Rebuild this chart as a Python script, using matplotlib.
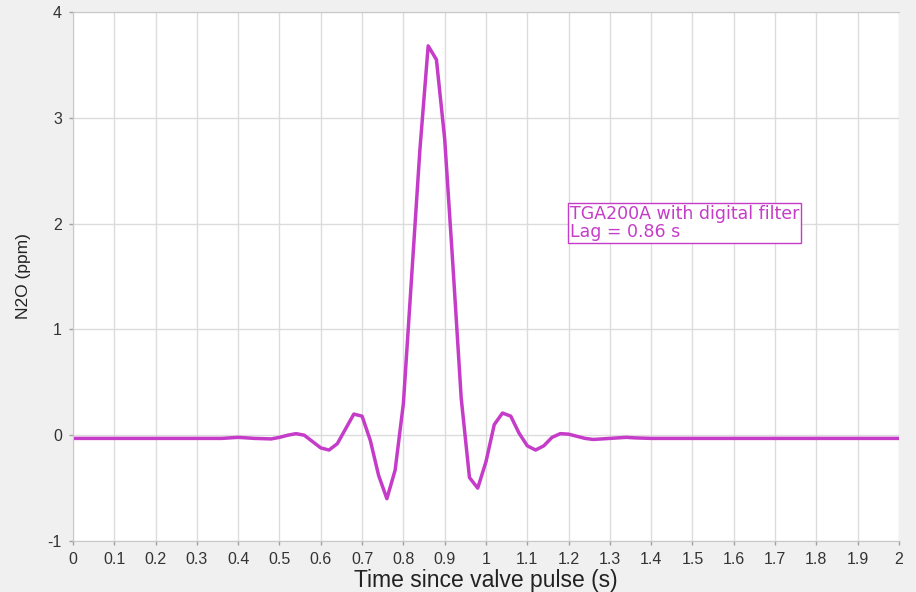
import numpy as np
import matplotlib
matplotlib.use("Agg")
import matplotlib.pyplot as plt

# N2O response after valve pulse
t_s = [0.00, 0.10, 0.20, 0.30, 0.36, 0.40, 0.44, 0.48, 0.50, 0.52, 0.54, 0.56,
       0.58, 0.60, 0.62, 0.64, 0.66, 0.68, 0.70, 0.72, 0.74, 0.76, 0.78, 0.80,
       0.82, 0.84, 0.86, 0.88, 0.90, 0.92, 0.94, 0.96, 0.98, 1.00, 1.02, 1.04,
       1.06, 1.08, 1.10, 1.12, 1.14, 1.16, 1.18, 1.20, 1.22, 1.24, 1.26, 1.30,
       1.34, 1.36, 1.40, 1.60, 1.80, 2.00]
n2o_ppm = [-0.03, -0.03, -0.03, -0.03, -0.03, -0.02, -0.03, -0.035, -0.02, 0.0, 0.015, 0.0,
           -0.06, -0.12, -0.14, -0.08, 0.06, 0.20, 0.18, -0.05, -0.38, -0.60, -0.33, 0.30,
           1.50, 2.70, 3.68, 3.55, 2.80, 1.60, 0.35, -0.40, -0.50, -0.25, 0.10, 0.21,
           0.18, 0.02, -0.10, -0.14, -0.10, -0.02, 0.015, 0.01, -0.01, -0.03, -0.04, -0.03,
           -0.02, -0.025, -0.03, -0.03, -0.03, -0.03]

x_ticks = np.round(np.arange(0, 2.01, 0.1), 1)
x_labels = ["0"] + ["%g" % v for v in x_ticks[1:]]
y_ticks = [-1, 0, 1, 2, 3, 4]

label_text = "TGA200A with digital filter\nLag = 0.86 s"

col = "#c53cc8"
plt.rcParams["font.family"] = ["Liberation Sans", "DejaVu Sans"]
plt.rcParams["axes.unicode_minus"] = False

fig = plt.figure(figsize=(9.16, 5.92), dpi=100, facecolor="#f0f0f0")
ax = fig.add_axes([0.0797, 0.0861, 0.9017, 0.8936])
ax.set_facecolor("white")

ax.plot(t_s, n2o_ppm, color=col, lw=2.5, solid_joinstyle="round")

ax.set_xlim(0, 2)
ax.set_ylim(-1, 4)
ax.set_xticks(x_ticks)
ax.set_xticklabels(x_labels)
ax.set_yticks(y_ticks)
ax.grid(True, color="#dcdcdc", lw=1)
ax.set_axisbelow(True)
ax.tick_params(length=3, width=1, color="#a0a0a0", labelsize=11.5,
               labelcolor="#333333", pad=5)

for side in ["left", "top", "bottom"]:
    ax.spines[side].set_color("#c8c8c8")
ax.spines["right"].set_visible(False)

ax.set_xlabel("Time since valve pulse (s)", fontsize=16.5, color="#222222", labelpad=1)
ax.set_ylabel("N2O (ppm)", fontsize=12.5, color="#222222", labelpad=12)

ax.text(1.203, 2.175, label_text, color=col, fontsize=12.5, va="top", ha="left",
        family="DejaVu Sans", linespacing=1.0,
        bbox=dict(boxstyle="square,pad=0.12", fc="white", ec=col, lw=1))

fig.savefig("out.png", dpi=100, facecolor=fig.get_facecolor())
